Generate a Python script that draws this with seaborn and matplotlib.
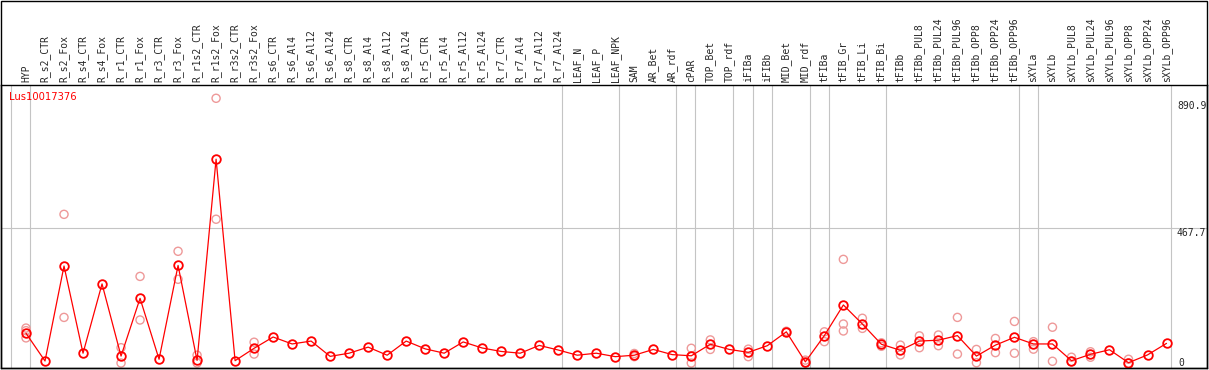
# profil d'expression Lus10017376 par tissu / condition
import numpy as np
import pandas as pd
import matplotlib
matplotlib.use("Agg")
import matplotlib.pyplot as plt
from matplotlib.patches import Rectangle
import seaborn as sns

gene = "Lus10017376"

samples = ["HYP", "R_s2_CTR", "R_s2_Fox", "R_s4_CTR", "R_s4_Fox", "R_r1_CTR", "R_r1_Fox",
           "R_r3_CTR", "R_r3_Fox", "R_r1s2_CTR", "R_r1s2_Fox", "R_r3s2_CTR", "R_r3s2_Fox",
           "R_s6_CTR", "R_s6_Al4", "R_s6_Al12", "R_s6_Al24", "R_s8_CTR", "R_s8_Al4",
           "R_s8_Al12", "R_s8_Al24", "R_r5_CTR", "R_r5_Al4", "R_r5_Al12", "R_r5_Al24",
           "R_r7_CTR", "R_r7_Al4", "R_r7_Al12", "R_r7_Al24", "LEAF_N", "LEAF_P", "LEAF_NPK",
           "SAM", "AR_Bet", "AR_rdf", "cPAR", "TOP_Bet", "TOP_rdf", "iFIBa", "iFIBb",
           "MID_Bet", "MID_rdf", "tFIBa", "tFIB_Gr", "tFIB_Li", "tFIB_Bi", "tFIBb",
           "tFIBb_PUL8", "tFIBb_PUL24", "tFIBb_PUL96", "tFIBb_OPP8", "tFIBb_OPP24",
           "tFIBb_OPP96", "sXYLa", "sXYLb", "sXYLb_PUL8", "sXYLb_PUL24", "sXYLb_PUL96",
           "sXYLb_OPP8", "sXYLb_OPP24", "sXYLb_OPP96"]

# moyenne par échantillon
mean_vals = [103, 7, 336, 34, 274, 24, 224, 13, 338, 9, 706, 8, 51,
             90, 66, 76, 23, 34, 55, 27, 76, 49, 34, 73, 52, 40, 34, 61, 45,
             27, 34, 22, 27, 47, 29, 25, 65, 47, 37, 60, 108, 4, 95,
             201, 135, 65, 44, 76, 79, 95, 24, 62, 89, 66, 66, 8, 30, 46, 1, 28, 68]

# réplicats visibles (vide = cachés sous la moyenne)
rep_vals = [[121, 112, 87], [], [515, 158], [], [], [53, 0], [300, 149], [], [387, 290],
            [27, 0], [917, 498], [], [72, 31],
            [], [], [], [], [], [], [], [], [], [], [], [], [], [], [], [],
            [], [], [], [33, 22], [], [], [51, 24, 0], [80, 47], [], [48, 22], [],
            [110, 106], [10, 0], [108, 74], [359, 135, 111], [155, 120], [70, 58],
            [62, 28], [94, 53], [97, 60], [158, 31], [47, 1], [85, 36], [144, 34],
            [74, 48], [124, 6], [20, 5], [39, 20], [], [13, 0], [], []]

# taille des groupes séparés par les lignes verticales
group_sizes = [1, 28, 3, 3, 1, 2, 1, 1, 2, 1, 3, 7, 1, 7]

y_ticks = [0, 467.7, 890.9]

df_mean = pd.DataFrame({"pos": np.arange(len(samples)), "value": mean_vals})
df_rep = pd.DataFrame([(i, v) for i, reps in enumerate(rep_vals) for v in reps],
                      columns=["pos", "value"])

sns.set_style("white")
plt.rcParams["font.family"] = ["DejaVu Sans"]

W, H = 1209, 370
fig = plt.figure(figsize=(W / 100, H / 100), dpi=100)
ax = fig.add_axes([1 / W, 2 / H, 1206 / W, 283 / H])

# lignes de séparation
ax.axvline(-1 + 0.2, color="#c4c4c4", lw=0.8, zorder=0)
ends = np.cumsum(group_sizes) - 1
for e in ends:
    ax.axvline(e + 0.22, color="#c4c4c4", lw=0.8, zorder=0)
ax.axhline(y_ticks[1], color="#c4c4c4", lw=0.8, zorder=0)

sns.scatterplot(data=df_rep, x="pos", y="value", ax=ax, marker="o", s=34,
                facecolors="none", edgecolor="#ee9999", linewidth=1.0, zorder=2)
sns.lineplot(data=df_mean, x="pos", y="value", ax=ax, color="red", lw=0.9,
             marker="o", markersize=6.2, markerfacecolor="none",
             markeredgecolor="red", markeredgewidth=1.3, zorder=3)

ax.set_xlim(-1.315, 62.13)
ax.set_ylim(-17.3, 963)

ax.xaxis.tick_top()
ax.set_xticks(np.arange(len(samples)))
ax.set_xticklabels(samples, rotation=90, fontsize=7, family="DejaVu Sans Mono")
ax.tick_params(axis="x", length=0, pad=2)
ax.set_yticks([])
ax.set_xlabel("")
ax.set_ylabel("")
for s in ax.spines.values():
    s.set_color("black")
    s.set_linewidth(1.0)

# valeurs de l'axe à droite, dans le cadre
x_lab = 60.55
ax.text(x_lab, y_ticks[2], "890.9", fontsize=7, family="DejaVu Sans Mono", va="center", ha="left")
ax.text(x_lab, y_ticks[1], "467.7", fontsize=7, family="DejaVu Sans Mono", va="top", ha="left")
ax.text(x_lab + 0.1, y_ticks[0], "0", fontsize=7, family="DejaVu Sans Mono", va="center", ha="left")

ax.text(8 / 1206, 1 - 12 / 283, gene, transform=ax.transAxes, color="red",
        fontsize=7.2, va="center", ha="left")

# cadre extérieur
fig.patches.append(Rectangle((1 / W, 2 / H), 1206 / W, (H - 2.5) / H, transform=fig.transFigure,
                             fill=False, edgecolor="black", lw=1.0))

fig.savefig("out.png", dpi=100)
